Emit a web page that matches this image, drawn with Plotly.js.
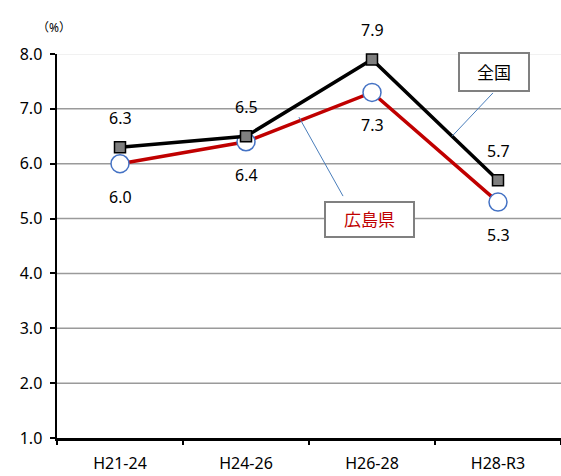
<!DOCTYPE html>
<html>
<head>
<meta charset="utf-8">
<script src="https://cdn.plot.ly/plotly-3.0.1.min.js"></script>
<style>html,body{margin:0;padding:0;background:#fff;}#chart{width:561px;height:476px;}</style>
</head>
<body>
<div id="chart"></div>
<script>
const categories = ["H21-24", "H24-26", "H26-28", "H28-R3"];
const zenkokuName = "全国";
const zenkokuValues = [6.3, 6.5, 7.9, 5.7];
const hiroshimaName = "広島県";
const hiroshimaValues = [6.0, 6.4, 7.3, 5.3];
const yTicks = [1, 2, 3, 4, 5, 6, 7, 8];
const yTickLabels = ["1.0", "2.0", "3.0", "4.0", "5.0", "6.0", "7.0", "8.0"];
const unitLabel = "（%）";

const FONT = "'Noto Sans', 'Noto Sans CJK JP', sans-serif";
const idx = categories.map((c, i) => i);

const traces = [
  {
    x: idx, y: hiroshimaValues, name: hiroshimaName, type: "scatter", mode: "lines+markers",
    line: {color: "#c00000", width: 3.5},
    marker: {symbol: "circle", size: 18, color: "#ffffff", line: {color: "#4472c4", width: 1.5}},
    cliponaxis: false, hoverinfo: "skip"
  },
  {
    x: idx, y: zenkokuValues, name: zenkokuName, type: "scatter", mode: "lines+markers",
    line: {color: "#000000", width: 3.5},
    marker: {symbol: "square", size: 11, color: "#7f7f7f", line: {color: "#000000", width: 1.5}},
    cliponaxis: false, hoverinfo: "skip"
  }
];

const annotations = [];
zenkokuValues.forEach((v, i) => annotations.push({
  x: i, y: v, xref: "x", yref: "y", text: v.toFixed(1), showarrow: false,
  yshift: 29, font: {family: FONT, size: 16, color: "#000"}
}));
hiroshimaValues.forEach((v, i) => annotations.push({
  x: i, y: v, xref: "x", yref: "y", text: v.toFixed(1), showarrow: false,
  yshift: -33, font: {family: FONT, size: 16, color: "#000"}
}));
annotations.push({
  x: 2.968, y: 7.67, xref: "x", yref: "y", text: zenkokuName, showarrow: false,
  font: {family: FONT, size: 17, color: "#000"}, bgcolor: "#fff",
  bordercolor: "#808080", borderwidth: 2, width: 68, height: 36, borderpad: 0
});
annotations.push({
  x: 1.98, y: 4.98, xref: "x", yref: "y", text: hiroshimaName, showarrow: false,
  font: {family: FONT, size: 17, color: "#c00000"}, bgcolor: "#fff",
  bordercolor: "#808080", borderwidth: 2, width: 87, height: 33, borderpad: 0
});
annotations.push({
  x: -0.0437, y: 1.096, xref: "paper", yref: "paper", text: unitLabel, showarrow: false,
  font: {family: FONT, size: 12, color: "#000"}
});

const shapes = [];
yTicks.filter(t => t > 1).forEach(t => shapes.push({
  type: "line", xref: "paper", yref: "y", x0: 0, x1: 1, y0: t, y1: t,
  line: {color: t === 8 ? "#ececec" : "#9a9a9a", width: 1.5}, layer: "below"
}));
shapes.push({type: "line", xref: "x", yref: "y", x0: 2.96, y0: 7.29, x1: 2.635, y1: 6.50,
  line: {color: "#4a7ebb", width: 1}});
shapes.push({type: "line", xref: "x", yref: "y", x0: 1.77, y0: 5.41, x1: 1.42, y1: 6.85,
  line: {color: "#4a7ebb", width: 1}});

const layout = {
  width: 561, height: 476,
  margin: {l: 57, r: 0, t: 54, b: 38, pad: 0},
  paper_bgcolor: "#fff", plot_bgcolor: "#fff",
  showlegend: false,
  font: {family: FONT, size: 16, color: "#000"},
  xaxis: {
    type: "linear", range: [-0.5, 3.5], tickmode: "array", tickvals: idx, ticktext: categories,
    showgrid: false, zeroline: false, showline: true, linecolor: "#000", linewidth: 2.5,
    ticks: "", tickfont: {family: FONT, size: 16}, ticklabelstandoff: 9
  },
  xaxis2: {
    overlaying: "x", type: "linear", range: [-0.5, 3.5], tickmode: "array",
    tickvals: [-0.5, 0.5, 1.5, 2.5, 3.5], showticklabels: false, ticks: "outside",
    ticklen: 6, tickwidth: 2, tickcolor: "#000", showgrid: false, zeroline: false,
    anchor: "y", side: "bottom"
  },
  yaxis: {
    range: [1, 8], tickmode: "array", tickvals: yTicks, ticktext: yTickLabels,
    showgrid: false, zeroline: false, showline: true, linecolor: "#000", linewidth: 2.5,
    ticks: "outside", ticklen: 5, tickwidth: 2, tickcolor: "#000",
    tickfont: {family: FONT, size: 16}, ticklabelstandoff: 4
  },
  annotations: annotations,
  shapes: shapes
};

traces.push({x: [0], y: [1], xaxis: "x2", yaxis: "y", mode: "markers", marker: {opacity: 0}, hoverinfo: "skip", showlegend: false});

Plotly.newPlot("chart", traces, layout, {displayModeBar: false, staticPlot: true});
</script>
</body>
</html>
